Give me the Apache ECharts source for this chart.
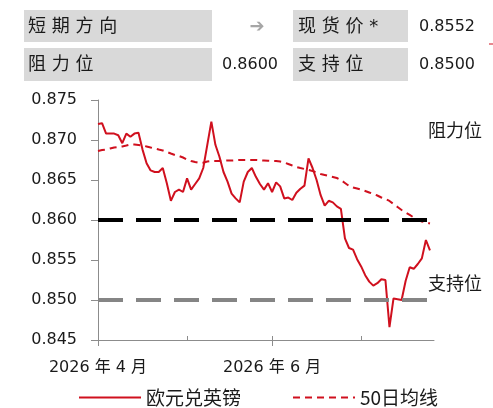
<!DOCTYPE html>
<html>
<head>
<meta charset="utf-8">
<script src="https://cdn.jsdelivr.net/npm/echarts@6/dist/echarts.min.js"></script>
<style>
html,body{margin:0;padding:0;background:#fff;}
#c{width:493px;height:408px;}
</style>
</head>
<body>
<div id="c"></div>
<script>
// ---- data ----
const dates = [
'2026-04-01','2026-04-02','2026-04-03','2026-04-06','2026-04-07','2026-04-08','2026-04-09','2026-04-10',
'2026-04-13','2026-04-14','2026-04-15','2026-04-16','2026-04-17','2026-04-20','2026-04-21','2026-04-22',
'2026-04-23','2026-04-24','2026-04-27','2026-04-28','2026-04-29','2026-04-30',
'2026-05-01','2026-05-04','2026-05-05','2026-05-06','2026-05-07','2026-05-08','2026-05-11','2026-05-12',
'2026-05-13','2026-05-14','2026-05-15','2026-05-18','2026-05-19','2026-05-20','2026-05-21','2026-05-22',
'2026-05-25','2026-05-26','2026-05-27','2026-05-28','2026-05-29',
'2026-06-01','2026-06-02','2026-06-03','2026-06-04','2026-06-05','2026-06-08','2026-06-09','2026-06-10',
'2026-06-11','2026-06-12','2026-06-15','2026-06-16','2026-06-17','2026-06-18','2026-06-19','2026-06-22',
'2026-06-23','2026-06-24','2026-06-25','2026-06-26','2026-06-29','2026-06-30',
'2026-07-01','2026-07-02','2026-07-03','2026-07-06','2026-07-07','2026-07-08','2026-07-09','2026-07-10',
'2026-07-13','2026-07-14','2026-07-15','2026-07-16','2026-07-17','2026-07-20','2026-07-21','2026-07-22',
'2026-07-23','2026-07-24','2026-07-27'
];
const eurgbp = [
0.8720,0.8721,0.8708,0.8708,0.8708,0.8706,0.8696,0.8708,0.8704,0.8708,
0.8709,0.8688,0.8671,0.8662,0.8660,0.8660,0.8665,0.8646,0.8624,0.8635,
0.8638,0.8635,0.8652,0.8638,0.8645,0.8652,0.8665,0.8694,0.8723,0.8694,
0.8679,0.8660,0.8648,0.8633,0.8627,0.8622,0.8648,0.8660,0.8665,0.8654,
0.8645,0.8638,0.8646,0.8635,0.8647,0.8642,0.8627,0.8628,0.8625,0.8634,
0.8639,0.8643,0.8677,0.8665,0.8650,0.8631,0.8618,0.8624,0.8622,0.8617,
0.8614,0.8577,0.8565,0.8563,0.8551,0.8542,0.8531,0.8523,0.8518,0.8521,
0.8526,0.8525,0.8466,0.8502,0.8501,0.8500,0.8524,0.8541,0.8539,0.8545,
0.8552,0.8575,0.8562
];
const ma50 = [
0.86863,0.86875,0.86881,0.86894,0.86906,0.86913,0.86919,0.86931,0.86944,0.86944,
0.86938,0.86931,0.86919,0.86906,0.86894,0.86881,0.86869,0.86850,0.86831,0.86813,
0.86800,0.86781,0.86756,0.86738,0.86725,0.86713,0.86716,0.86731,0.86738,0.86738,
0.86738,0.86741,0.86744,0.86744,0.86746,0.86750,0.86750,0.86750,0.86750,0.86750,
0.86746,0.86744,0.86741,0.86738,0.86738,0.86731,0.86719,0.86700,0.86681,0.86663,
0.86650,0.86638,0.86625,0.86613,0.86594,0.86575,0.86563,0.86550,0.86538,0.86525,
0.86500,0.86463,0.86425,0.86406,0.86394,0.86381,0.86363,0.86344,0.86325,0.86306,
0.86281,0.86263,0.86238,0.86200,0.86163,0.86125,0.86094,0.86063,0.86031,0.86006,
0.85981,0.85969,0.85956
];
const seriesNames = ['欧元兑英镑', '50日均线'];
const resistance = 0.8600;
const support = 0.8500;
const spot = 0.8552;
const labeledMonths = ['04', '06'];
const yTicks = { min: 0.845, max: 0.875, interval: 0.005 };
const tableRow1 = ['短 期 方 向', '➔', '现 货 价 *', spot.toFixed(4)];
const tableRow2 = ['阻 力 位', resistance.toFixed(4), '支 持 位', support.toFixed(4)];
const levelLabels = ['阻力位', '支持位'];

// ---- derived ----
const monthStart = new Set();
dates.forEach((d, i) => { if (i === 0 || d.slice(5,7) !== dates[i-1].slice(5,7)) monthStart.add(i); });
const labelIdx = new Set([...monthStart].filter(i => labeledMonths.includes(dates[i].slice(5,7))));

const FONT = "'DejaVu Sans', 'Noto Sans CJK SC', sans-serif";
const CJK = "'Noto Sans CJK SC', 'DejaVu Sans', sans-serif";
const RED = '#d0101e';

const chart = echarts.init(document.getElementById('c'), null, { renderer: 'canvas' });
chart.setOption({
  animation: false,
  backgroundColor: '#fff',
  textStyle: { fontFamily: FONT },
  grid: { left: 98, right: 59, top: 100, bottom: 68, containLabel: false },
  xAxis: [{
    type: 'category',
    data: dates,
    boundaryGap: false,
    axisLine: { lineStyle: { color: '#8c8c8c', width: 1 } },
    axisTick: { show: true, inside: false, length: 6, interval: (i) => labelIdx.has(i), lineStyle: { color: '#8c8c8c' } },
    axisLabel: {
      interval: (i) => labelIdx.has(i),
      formatter: (v) => v.slice(0,4) + ' 年 ' + parseInt(v.slice(5,7), 10) + ' 月',
      color: '#1a1a1a', fontSize: 16, fontFamily: FONT, margin: 20
    },
    splitLine: { show: false }
  }, {
    type: 'category',
    data: dates,
    boundaryGap: false,
    position: 'bottom',
    axisLine: { show: false },
    axisTick: { show: true, inside: true, length: 4, interval: (i) => monthStart.has(i), lineStyle: { color: '#8c8c8c' } },
    axisLabel: { show: false },
    splitLine: { show: false }
  }],
  yAxis: {
    type: 'value',
    min: yTicks.min, max: yTicks.max, interval: yTicks.interval,
    axisLine: { show: true, lineStyle: { color: '#8c8c8c', width: 1 } },
    axisTick: { show: true, inside: false, length: 7, lineStyle: { color: '#8c8c8c' } },
    axisLabel: { formatter: (v) => v.toFixed(3), color: '#1a1a1a', fontSize: 16, fontFamily: FONT, margin: 21 },
    splitLine: { show: false }
  },
  legend: {
    left: 73, top: 383,
    itemWidth: 62, itemHeight: 14, itemGap: 51,
    itemStyle: { opacity: 0 },
    textStyle: { fontSize: 19, color: '#1a1a1a', fontFamily: CJK },
    data: seriesNames
  },
  series: [{
    name: seriesNames[0],
    type: 'line',
    data: eurgbp,
    symbol: 'none',
    lineStyle: { color: RED, width: 2 },
    itemStyle: { color: RED },
    z: 3,
    markLine: {
      silent: true,
      symbol: ['none', 'none'],
      label: { show: false },
      lineStyle: { width: 4, type: [25, 13] },
      data: [
        { yAxis: resistance, lineStyle: { color: '#000000', width: 4, type: [25, 13] } },
        { yAxis: support, lineStyle: { color: '#858585', width: 4, type: [25, 13] } }
      ]
    }
  }, {
    name: seriesNames[1],
    type: 'line',
    data: ma50,
    symbol: 'none',
    lineStyle: { color: RED, width: 2, type: [7, 5] },
    itemStyle: { color: RED },
    z: 2
  }],
  graphic: [
    { type: 'rect', shape: { x: 24, y: 10, width: 188, height: 32 }, style: { fill: '#d9d9d9' } },
    { type: 'rect', shape: { x: 24, y: 48, width: 188, height: 33 }, style: { fill: '#d9d9d9' } },
    { type: 'rect', shape: { x: 293, y: 10, width: 115, height: 32 }, style: { fill: '#d9d9d9' } },
    { type: 'rect', shape: { x: 293, y: 48, width: 115, height: 33 }, style: { fill: '#d9d9d9' } },
    { type: 'text', x: 28, y: 27, style: { text: tableRow1[0], font: "18px " + FONT, fill: '#1a1a1a', textVerticalAlign: 'middle' } },
    { type: 'text', x: 257, y: 27, style: { text: tableRow1[1], font: "18px 'DejaVu Sans'", fill: '#a6a6a6', textAlign: 'center', textVerticalAlign: 'middle' } },
    { type: 'text', x: 298, y: 27, style: { text: tableRow1[2], font: "18px " + FONT, fill: '#1a1a1a', textVerticalAlign: 'middle' } },
    { type: 'text', x: 419, y: 27, style: { text: tableRow1[3], font: "16px " + FONT, fill: '#1a1a1a', textVerticalAlign: 'middle' } },
    { type: 'text', x: 28, y: 65, style: { text: tableRow2[0], font: "18px " + FONT, fill: '#1a1a1a', textVerticalAlign: 'middle' } },
    { type: 'text', x: 278, y: 65, style: { text: tableRow2[1], font: "16px " + FONT, fill: '#1a1a1a', textAlign: 'right', textVerticalAlign: 'middle' } },
    { type: 'text', x: 298, y: 65, style: { text: tableRow2[2], font: "18px " + FONT, fill: '#1a1a1a', textVerticalAlign: 'middle' } },
    { type: 'text', x: 419, y: 65, style: { text: tableRow2[3], font: "16px " + FONT, fill: '#1a1a1a', textVerticalAlign: 'middle' } },
    { type: 'line', shape: { x1: 489, y1: 44, x2: 493, y2: 44 }, style: { stroke: RED, lineWidth: 1 } },
    { type: 'text', x: 428, y: 130, style: { text: levelLabels[0], font: "18px " + CJK, fill: '#1a1a1a', textVerticalAlign: 'middle' } },
    { type: 'text', x: 428, y: 283, style: { text: levelLabels[1], font: "18px " + CJK, fill: '#1a1a1a', textVerticalAlign: 'middle' } }
  ]
});
</script>
</body>
</html>
